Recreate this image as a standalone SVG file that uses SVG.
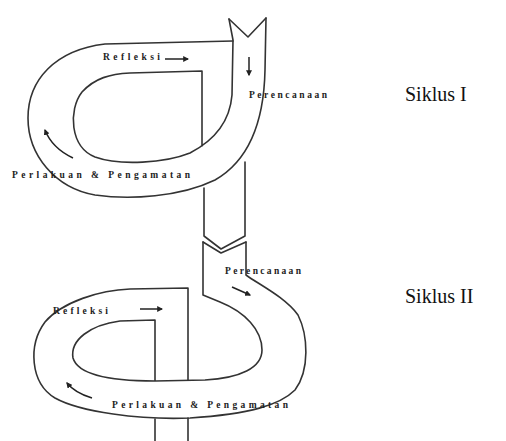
<svg xmlns="http://www.w3.org/2000/svg" width="506" height="441" viewBox="0 0 506 441">
<style>
.edge{fill:none;stroke:#333;stroke-width:1.6;stroke-linejoin:round;stroke-linecap:round}
.arr{fill:none;stroke:#222;stroke-width:1.5;marker-end:url(#ah)}
.lbl{font-family:"Liberation Serif",serif;font-weight:bold;font-size:9.5px;fill:#222}
.big{font-family:"Liberation Serif",serif;font-size:20px;fill:#111}
</style>
<defs>
<marker id="ah" viewBox="0 0 10 10" refX="8" refY="5" markerWidth="4" markerHeight="4" orient="auto" markerUnits="strokeWidth">
<path d="M0,0 L10,5 L0,10 z" fill="#222"/>
</marker>
</defs>
<rect width="506" height="441" fill="#fff"/>
<g id="siklus1">
<path class="edge" d="M229,19 L248,37 L266,18"/>
<path class="edge" d="M266,18 L265,70 C264,120 250,160 215,180 C180,197 130,200 95,195 C55,188 28,155 28,118 C28,80 55,50 105,44 L233,41"/>
<path class="edge" d="M229,19 L233,40 L232,95 C230,120 215,140 190,153 C165,163 120,166 95,157 C70,147 68,110 82,92 C95,78 110,74 130,73 L202,71 L202,146"/>
<path class="edge" d="M204,188 L204,236 L221,249 L245,236 L245,162"/>
<text class="lbl" x="103" y="60" textLength="57" lengthAdjust="spacing">Refleksi</text>
<text class="lbl" x="249" y="98" textLength="78" lengthAdjust="spacing">Perencanaan</text>
<text class="lbl" x="12" y="178" textLength="178" lengthAdjust="spacing">Perlakuan &amp; Pengamatan</text>
<text class="big" x="405" y="101">Siklus I</text>
</g>
<g id="siklus2">
<path class="edge" d="M203,242 L221,253 L246,242"/>
<path class="edge" d="M203,242 L203,295 L220,302 C245,312 262,330 262,350 C262,368 240,378 205,380 L155,381 C110,381 78,375 73,358 C70,340 90,325 120,321 L155,320 L155,381"/>
<path class="edge" d="M246,242 L246,275 C258,284 285,297 298,315 C308,335 310,370 295,390 C280,405 250,414 190,418 C140,420 80,412 55,398 C30,383 28,345 45,322 C62,302 100,290 130,289 L188,288 L188,380"/>
<path class="edge" d="M155,419 L155,441 M188,418 L188,441"/>
<text class="lbl" x="225" y="274" textLength="76" lengthAdjust="spacing">Perencanaan</text>
<text class="lbl" x="53" y="314" textLength="55" lengthAdjust="spacing">Refleksi</text>
<text class="lbl" x="112" y="408" textLength="176" lengthAdjust="spacing">Perlakuan &amp; Pengamatan</text>
<text class="big" x="405" y="303">Siklus II</text>
</g>
<g id="connectors">
<path class="arr" d="M165,59 L188,59"/>
<path class="arr" d="M249,57 L249,75"/>
<path class="arr" d="M73,158 Q52,148 45,130"/>
<path class="arr" d="M140,309 L162,309"/>
<path class="arr" d="M232,287 L250,295"/>
<path class="arr" d="M92,398 Q75,393 67,383"/>
</g>
</svg>
